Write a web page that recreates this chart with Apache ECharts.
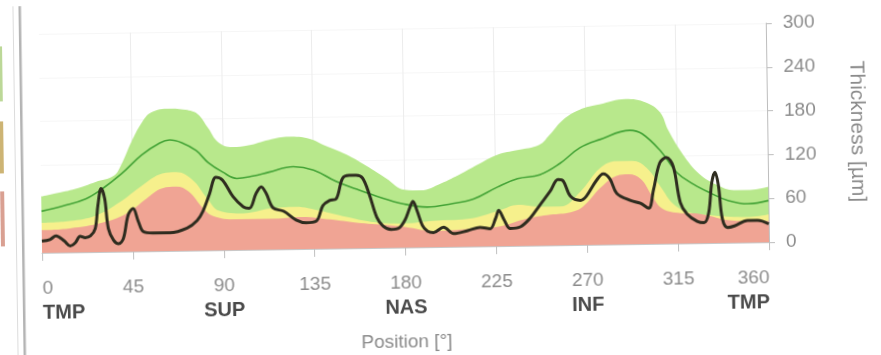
<!DOCTYPE html>
<html>
<head>
<meta charset="utf-8">
<script src="https://cdn.jsdelivr.net/npm/echarts@6/dist/echarts.min.js"></script>
<style>
  html, body { margin: 0; padding: 0; background: #ffffff; overflow: hidden; }
  #chart { position: absolute; left: 0; top: 0; width: 881px; height: 355px;
           transform: rotate(-0.84deg); transform-origin: 50% 50%; }
</style>
</head>
<body>
<div id="chart"></div>
<script>
// Retinal thickness profile around the circle (position in degrees, thickness in µm)

// Position ticks and sector names
const positionTicks = [0, 45, 90, 135, 180, 225, 270, 315, 360];
const sectorDeg = [0, 90, 180, 270, 360];
const sectorNames = ['TMP', 'SUP', 'NAS', 'INF', 'TMP'];
const thicknessTicks = [0, 60, 120, 180, 240, 300];

// Normative bands: upper edge of each band [deg, µm]
const redBand = [[0,31],[14,33],[30,40],[42,52],[52,72],[60,86],[67,88],[73,81],[80,58],[85,47],[96,42],[113,42],[129,44],[143,40],[156,35],[171,31],[180,28],[194,22],[211,24],[227,27],[240,37],[252,42],[262,45],[268,52],[277,78],[285,94],[291,96],[297,89],[302,68],[307,49],[315,42],[326,40],[343,30],[360,29]];
const yellowBand = [[0,41],[14,43],[27,50],[39,68],[50,90],[60,106],[67,108],[75,97],[82,72],[88,54],[100,50],[113,56],[126,58],[138,52],[151,43],[163,36],[179,33],[194,36],[211,38],[227,49],[236,56],[247,53],[257,53],[267,73],[277,105],[285,114],[293,114],[300,104],[307,77],[313,54],[321,42],[335,37],[351,35],[360,38]];
const greenBand = [[0,77],[7,81],[17,87],[27,96],[36,104],[40,120],[45,150],[50,175],[55,190],[64,195],[72,193],[78,187],[83,168],[88,148],[95,141],[103,143],[113,150],[123,154],[133,151],[141,141],[151,129],[161,113],[171,95],[180,79],[188,78],[198,87],[208,100],[217,113],[226,125],[236,131],[247,138],[252,151],[259,172],[267,185],[277,192],[290,199],[300,194],[307,180],[311,155],[318,122],[326,95],[335,79],[343,72],[351,72],[360,76]];

// Normative mean
const meanLine = [[0,57],[11,64],[22,73],[30,86],[40,107],[50,132],[59,148],[64,152],[70,148],[77,137],[83,120],[90,107],[97,98],[105,101],[113,106],[125,113],[135,108],[146,92],[156,81],[166,71],[179,60],[191,55],[203,59],[214,65],[226,81],[236,92],[247,97],[257,112],[267,133],[277,144],[292,156],[298,151],[307,127],[315,97],[323,81],[331,69],[340,58],[350,53],[360,57]];

// Measured thickness
const measured = [[0,16],[4,18],[7,23],[11,16],[14,9],[16.5,13],[19,22],[21.5,20],[24,22],[26.5,32],[28,64],[29.7,87],[31.4,73],[33,32],[35.5,16],[38,11],[40.4,18],[42.9,50],[45.4,59],[47.9,41],[50.3,27],[55,25],[63.5,25],[72,31],[77,41],[80,54],[83.3,77],[86.6,100],[89.9,96],[95,73],[100,59],[103,57],[106.4,77],[109,86],[111.4,77],[114.7,57],[120,52],[126,40],[131,36],[136,38],[139.4,59],[142.7,66],[146,68],[149.3,96],[152.6,100],[156,100],[159.2,96],[162.5,73],[166,42],[169,30],[173,25],[177,27],[180,38],[182.5,55],[184,63],[186,50],[188.5,30],[191,22],[194,20],[199,27],[204,18],[211,22],[217,26],[222,24],[224.8,38],[226.4,49],[229,36],[232,24],[237,26],[242,38],[247,56],[252,74],[256,90],[258.6,88],[262,67],[267,61],[270,67],[275,88],[278.4,97],[281.7,90],[285,70],[291.6,60],[296.6,56],[300.7,49],[303.2,74],[306.5,111],[309.8,118],[313.1,106],[316.4,56],[319.7,40],[324.6,30],[328,28],[330.4,42],[332.1,83],[333.8,97],[335.4,78],[337.1,33],[339.6,21],[343,23],[349.5,30],[354.5,30],[360,25]];

const FONT = '"Liberation Sans", Arial, sans-serif';
const GRID_V = '#ececec';
const chart = echarts.init(document.getElementById('chart'), null, { renderer: 'canvas' });

function bandSeries(data, color) {
  return {
    type: 'line', data: data, smooth: 0.4, symbol: 'none', silent: true,
    lineStyle: { width: 0, color: color }, itemStyle: { color: color },
    areaStyle: { color: color, opacity: 1 }
  };
}

// vertical grid colours per tick: none at 0°
const vGridColors = positionTicks.map(function (d) { return d === 0 ? 'rgba(0,0,0,0)' : GRID_V; });

chart.setOption({
  animation: false,
  backgroundColor: '#ffffff',
  grid: { left: 41, right: 113, top: 28, bottom: 108, containLabel: false, outerBoundsMode: 'none' },
  xAxis: {
    type: 'value', min: 0, max: 360, interval: 45,
    name: 'Position [°]', nameLocation: 'middle', nameGap: 85,
    nameTextStyle: { color: '#8a8a8a', fontSize: 19, fontFamily: FONT },
    axisLine: { show: true, onZero: false, lineStyle: { color: '#c9c9c9', width: 1 } },
    axisTick: { show: true, length: 8, lineStyle: { color: '#c0c0c0' } },
    splitLine: { show: true, lineStyle: { color: vGridColors, width: 1 } },
    axisLabel: {
      margin: 25, alignMinLabel: 'left', alignMaxLabel: 'right',
      formatter: function (v) {
        const i = sectorDeg.indexOf(v);
        return i >= 0 ? '{n|' + v + '}\n{b|' + sectorNames[i] + '}' : '{n|' + v + '}';
      },
      rich: {
        n: { fontSize: 19, color: '#8c8c8c', lineHeight: 21, fontFamily: FONT },
        b: { fontSize: 20, color: '#4a4a4a', fontWeight: 'bold', lineHeight: 29, fontFamily: FONT }
      }
    }
  },
  yAxis: {
    type: 'value', position: 'right', min: 0, max: 300, interval: 60,
    name: 'Thickness [µm]', nameLocation: 'middle', nameGap: 79, nameRotate: -90,
    nameTextStyle: { color: '#8a8a8a', fontSize: 21, fontFamily: FONT },
    axisLine: { show: true, onZero: false, lineStyle: { color: '#bdbdbd', width: 1 } },
    axisTick: { show: true, length: 6, lineStyle: { color: '#bdbdbd' } },
    splitLine: { show: true, lineStyle: { color: '#f6f6f6', width: 1 } },
    axisLabel: { margin: 17, color: '#8c8c8c', fontSize: 19, fontFamily: FONT,
                 formatter: function (v) { return thicknessTicks.indexOf(v) >= 0 ? String(v) : ''; } }
  },
  graphic: [
    { type: 'rect', shape: { x: 15, y: 0, width: 1, height: 355 }, style: { fill: '#dcdcdc' }, silent: true },
    { type: 'rect', shape: { x: 21, y: 0, width: 2.5, height: 355 }, style: { fill: '#b4b4b4' }, silent: true },
    { type: 'rect', shape: { x: 0, y: 40, width: 4, height: 55 }, style: { fill: '#bcd898' }, silent: true },
    { type: 'rect', shape: { x: 0, y: 115, width: 4, height: 52 }, style: { fill: '#cdb474' }, silent: true },
    { type: 'rect', shape: { x: 0, y: 185, width: 4, height: 55 }, style: { fill: '#d9a092' }, silent: true }
  ],
  series: [
    bandSeries(greenBand, '#b8e88c'),
    bandSeries(yellowBand, '#f6f08c'),
    bandSeries(redBand, '#f0a494'),
    { type: 'line', data: meanLine, smooth: 0.4, symbol: 'none', silent: true,
      lineStyle: { color: '#43a336', width: 1.6 } },
    { type: 'line', data: measured, smooth: 0.35, symbol: 'none', silent: true,
      lineStyle: { color: '#2e2c1f', width: 3 } }
  ]
});
</script>
</body>
</html>
